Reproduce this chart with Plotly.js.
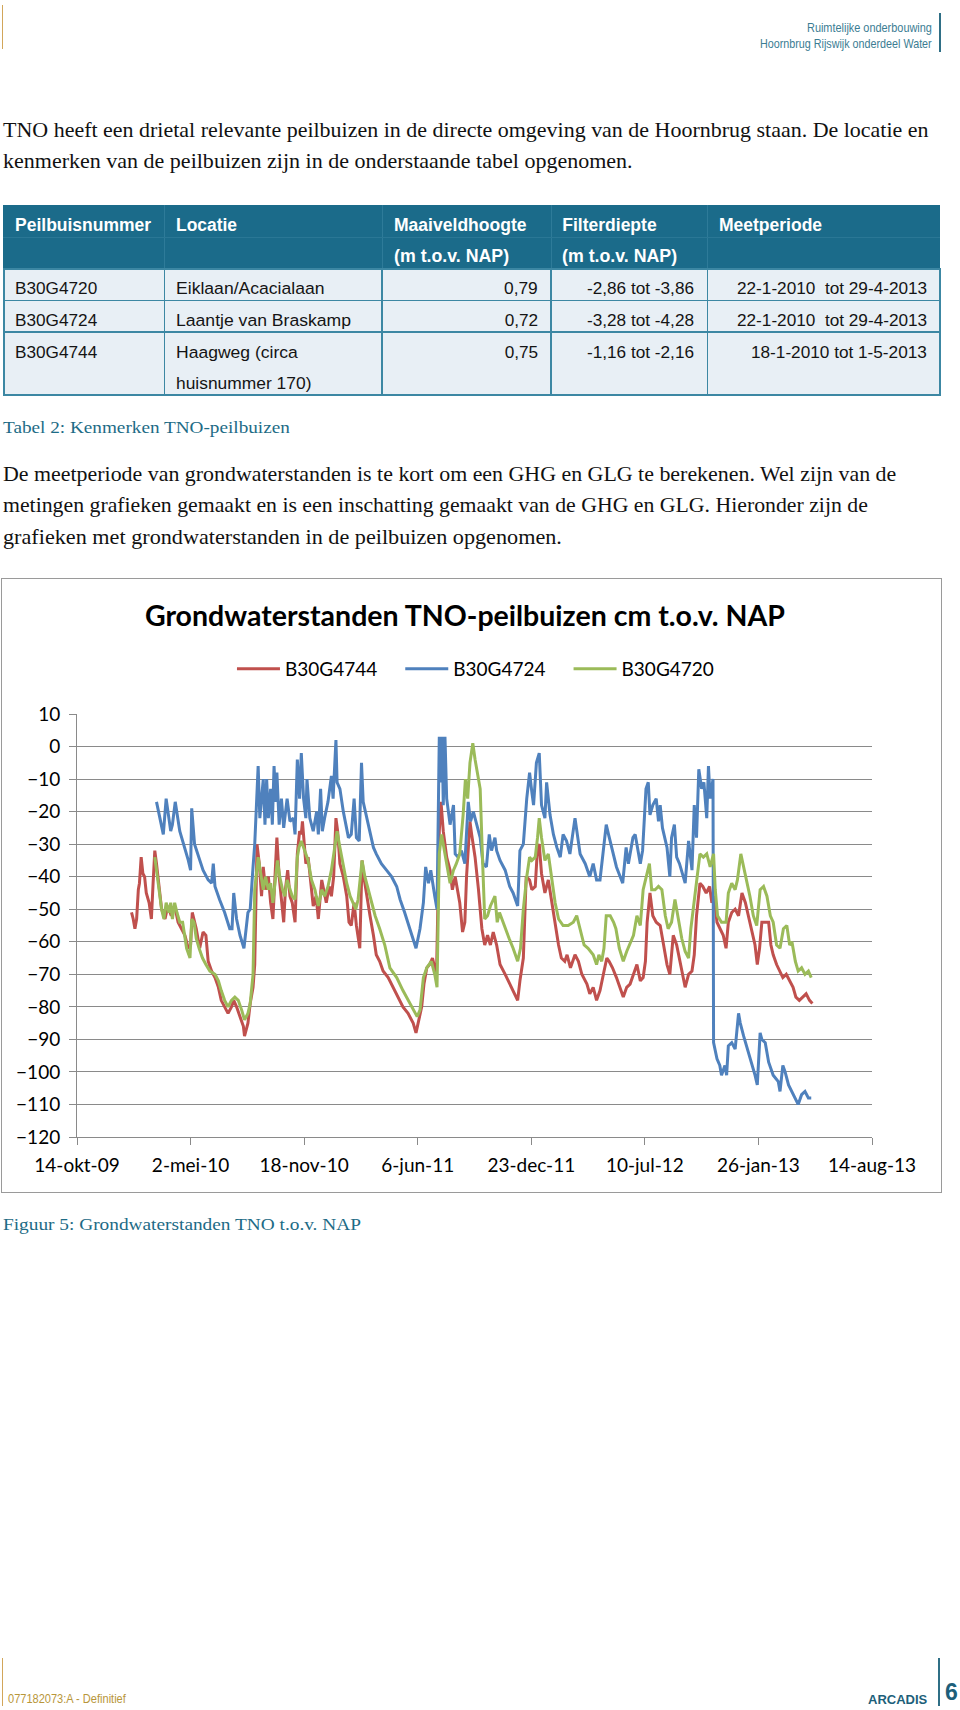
<!DOCTYPE html>
<html><head><meta charset="utf-8">
<script src="https://cdn.plot.ly/plotly-3.0.1.min.js"></script>
<style>
html,body{margin:0;padding:0;background:#fff}
body{width:960px;height:1710px;position:relative;overflow:hidden}
.t{position:absolute;white-space:nowrap;line-height:1;transform-origin:0 50%}
.serif{font-family:"Liberation Serif","DejaVu Serif",serif;font-size:21px;color:#111}
.cap{font-family:"Liberation Serif",serif;font-size:17px;color:#1d6b86}
.hdr{font-family:"Liberation Sans Narrow","Liberation Sans",Arial,sans-serif;font-size:13px;color:#3b7d93}
.th{font-family:"Liberation Sans",Arial,sans-serif;font-size:17.5px;font-weight:bold;color:#fff}
.td{font-family:"Liberation Sans",Arial,sans-serif;font-size:17.2px;color:#141414}
.box{position:absolute}
</style></head><body>

<!-- page header -->
<div class="box" style="left:2px;top:5px;width:1px;height:44px;background:#d2a65a"></div>
<div class="box" style="left:939px;top:13px;width:1.5px;height:39px;background:#2f6f86"></div>
<div class="t hdr" data-r="932" data-y="26.5" data-w="125">Ruimtelijke onderbouwing</div>
<div class="t hdr" data-r="932" data-y="42.5" data-w="172">Hoornbrug Rijswijk onderdeel Water</div>

<!-- paragraph 1 -->
<div class="t serif" data-x="3" data-y="130" data-w="926">TNO heeft een drietal relevante peilbuizen in de directe omgeving van de Hoornbrug staan. De locatie en</div>
<div class="t serif" data-x="3" data-y="161" data-w="630">kenmerken van de peilbuizen zijn in de onderstaande tabel opgenomen.</div>

<!-- table -->
<div class="box" style="left:3px;top:205px;width:937px;height:64px;background:#1b6b8a"></div>
<div class="box" style="left:164px;top:205px;width:1px;height:64px;background:#2e7b99"></div>
<div class="box" style="left:381.5px;top:205px;width:1px;height:64px;background:#2e7b99"></div>
<div class="box" style="left:550.5px;top:205px;width:1px;height:64px;background:#2e7b99"></div>
<div class="box" style="left:707px;top:205px;width:1px;height:64px;background:#2e7b99"></div>
<div class="box" style="left:3px;top:236.5px;width:937px;height:1px;background:#2a7795"></div>
<div class="box" style="left:3px;top:268.5px;width:937px;height:126.5px;background:#e8eff5"></div>
<div class="box" style="left:3px;top:268px;width:937px;height:1.5px;background:#3c87a3"></div>
<div class="box" style="left:3px;top:299.5px;width:937px;height:1.5px;background:#3c87a3"></div>
<div class="box" style="left:3px;top:331px;width:937px;height:1.5px;background:#3c87a3"></div>
<div class="box" style="left:3px;top:394px;width:937px;height:1.5px;background:#3c87a3"></div>
<div class="box" style="left:3px;top:268px;width:1.5px;height:127.5px;background:#3c87a3"></div>
<div class="box" style="left:163.5px;top:268px;width:1.5px;height:127.5px;background:#3c87a3"></div>
<div class="box" style="left:381px;top:268px;width:1.5px;height:127.5px;background:#3c87a3"></div>
<div class="box" style="left:550px;top:268px;width:1.5px;height:127.5px;background:#3c87a3"></div>
<div class="box" style="left:706.5px;top:268px;width:1.5px;height:127.5px;background:#3c87a3"></div>
<div class="box" style="left:939px;top:268px;width:1.5px;height:127.5px;background:#3c87a3"></div>

<div class="t th" data-x="15" data-y="226">Peilbuisnummer</div>
<div class="t th" data-x="176" data-y="226" data-w="60.7">Locatie</div>
<div class="t th" data-x="394.3" data-y="226" data-w="132.3">Maaiveldhoogte</div>
<div class="t th" data-x="562.3" data-y="226">Filterdiepte</div>
<div class="t th" data-x="719" data-y="226">Meetperiode</div>
<div class="t th" data-x="394.3" data-y="257.3" data-w="114.7">(m t.o.v. NAP)</div>
<div class="t th" data-x="562.3" data-y="257.3" data-w="114.7">(m t.o.v. NAP)</div>

<div class="t td" data-x="15" data-y="289.3">B30G4720</div>
<div class="t td" data-x="176" data-y="289.3" data-w="148.3">Eiklaan/Acacialaan</div>
<div class="t td" data-r="537.7" data-y="289.3" data-w="33.3">0,79</div>
<div class="t td" data-r="694" data-y="289.3">-2,86 tot -3,86</div>
<div class="t td" data-r="927" data-y="289.3">22-1-2010&nbsp; tot 29-4-2013</div>

<div class="t td" data-x="15" data-y="321">B30G4724</div>
<div class="t td" data-x="176" data-y="321" data-w="175">Laantje van Braskamp</div>
<div class="t td" data-r="537.7" data-y="321">0,72</div>
<div class="t td" data-r="694" data-y="321">-3,28 tot -4,28</div>
<div class="t td" data-r="927" data-y="321">22-1-2010&nbsp; tot 29-4-2013</div>

<div class="t td" data-x="15" data-y="353.3">B30G4744</div>
<div class="t td" data-x="176" data-y="353.3" data-w="121.3">Haagweg (circa</div>
<div class="t td" data-x="176" data-y="384.3" data-w="135.7">huisnummer 170)</div>
<div class="t td" data-r="537.7" data-y="353.3">0,75</div>
<div class="t td" data-r="694" data-y="353.3">-1,16 tot -2,16</div>
<div class="t td" data-r="927" data-y="353.3">18-1-2010 tot 1-5-2013</div>

<div class="t cap" data-x="3" data-y="426.7" data-w="287">Tabel 2: Kenmerken TNO-peilbuizen</div>

<!-- paragraph 2 -->
<div class="t serif" data-x="3" data-y="474" data-w="893">De meetperiode van grondwaterstanden is te kort om een GHG en GLG te berekenen. Wel zijn van de</div>
<div class="t serif" data-x="3" data-y="505" data-w="865">metingen grafieken gemaakt en is een inschatting gemaakt van de GHG en GLG. Hieronder zijn de</div>
<div class="t serif" data-x="3" data-y="536.7" data-w="559">grafieken met grondwaterstanden in de peilbuizen opgenomen.</div>

<!-- chart -->
<div class="box" style="left:1px;top:578px;width:939px;height:613px;border:1px solid #9a9a9a">
  <div id="chart" style="width:939px;height:613px"></div>
</div>

<div class="t cap" data-x="3" data-y="1223.5" data-w="358">Figuur 5: Grondwaterstanden TNO t.o.v. NAP</div>

<!-- footer -->
<div class="box" style="left:2px;top:1658px;width:1px;height:48px;background:#d2a65a"></div>
<div class="box" style="left:938px;top:1658px;width:1.5px;height:48px;background:#2f6f86"></div>
<div class="t hdr" style="color:#b8963a" data-x="8" data-y="1698" data-w="118">077182073:A - Definitief</div>
<div class="t" style="font-family:'Liberation Sans',Arial,sans-serif;font-weight:bold;font-size:13px;color:#1d5f7a" data-r="927" data-y="1699" data-w="59">ARCADIS</div>
<div class="t" style="font-family:'Liberation Sans',Arial,sans-serif;font-weight:bold;font-size:23px;color:#1d5f7a" data-x="945" data-y="1692">6</div>

<script>
// ---- data: days since 14-okt-09, groundwater level in cm t.o.v. NAP ----
const seriesNames = ['B30G4744', 'B30G4724', 'B30G4720'];
const seriesColors = ['#c0504d', '#4f81bd', '#9bbb59'];
const xTickDays = [0, 200, 400, 600, 800, 1000, 1200, 1400];
const xTickLabels = ['14-okt-09', '2-mei-10', '18-nov-10', '6-jun-11', '23-dec-11', '10-jul-12', '26-jan-13', '14-aug-13'];
const yTickValues = [10, 0, -10, -20, -30, -40, -50, -60, -70, -80, -90, -100, -110, -120];

const b30g4744 = [[96,-51],[99,-53],[102,-56],[105,-53],[108,-44],[110,-42],[113,-34],[116,-39],[119,-40],[122,-45],[127,-48],[131,-53],[134,-42],[137,-32],[140,-36],[145,-44],[149,-50],[155,-53],[160,-49],[166,-52],[172,-49],[178,-54],[184,-56],[190,-58],[196,-62],[200,-61],[203,-51],[210,-56],[216,-62],[222,-57],[227,-58],[231,-66],[237,-69],[243,-71],[249,-74],[254,-78],[260,-80],[266,-82],[272,-80],[276,-78],[281,-80],[287,-83],[293,-86],[295,-89],[301,-85],[305,-79],[310,-74],[313,-67],[315,-44],[317,-30],[321,-36],[325,-46],[328,-37],[332,-44],[337,-40],[341,-48],[345,-53],[349,-40],[352,-28],[356,-40],[360,-48],[364,-54],[367,-44],[371,-38],[375,-46],[379,-48],[384,-54],[388,-33],[392,-26],[395,-27],[397,-23],[399,-28],[403,-36],[407,-34],[411,-40],[416,-49],[421,-46],[425,-53],[431,-41],[435,-44],[439,-48],[444,-43],[448,-46],[452,-40],[456,-22],[459,-26],[463,-36],[469,-40],[475,-46],[479,-54],[483,-55],[488,-48],[492,-55],[498,-62],[502,-35],[506,-41],[510,-46],[516,-52],[522,-58],[527,-64],[533,-66],[539,-69],[548,-71],[557,-74],[566,-77],[574,-80],[583,-82],[592,-85],[597,-88],[603,-83],[607,-80],[611,-73],[616,-68],[621,-67],[626,-65],[630,-68],[633,-71],[638,-26],[641,-17],[645,-26],[651,-34],[657,-38],[661,-44],[666,-40],[670,-44],[674,-48],[679,-57],[683,-54],[686,-40],[692,-23],[695,-27],[701,-34],[707,-44],[710,-49],[713,-56],[718,-61],[723,-58],[728,-61],[733,-57],[739,-61],[745,-67],[754,-70],[762,-73],[771,-76],[776,-78],[780,-72],[786,-65],[791,-40],[797,-41],[801,-44],[807,-43],[811,-31],[814,-30],[818,-39],[824,-45],[830,-41],[836,-48],[842,-54],[848,-61],[853,-65],[859,-66],[863,-64],[869,-68],[877,-64],[883,-66],[889,-70],[898,-73],[903,-76],[909,-74],[915,-78],[921,-75],[927,-70],[933,-65],[937,-66],[943,-68],[950,-71],[956,-74],[962,-77],[968,-74],[974,-73],[980,-70],[986,-67],[992,-72],[997,-71],[1001,-66],[1004,-54],[1009,-45],[1014,-52],[1020,-54],[1027,-55],[1033,-61],[1039,-67],[1044,-70],[1050,-58],[1056,-61],[1062,-66],[1068,-71],[1071,-74],[1077,-70],[1083,-69],[1087,-64],[1091,-52],[1097,-42],[1102,-43],[1108,-45],[1114,-43],[1118,-48],[1122,-46],[1127,-54],[1132,-56],[1138,-58],[1143,-62],[1147,-54],[1153,-51],[1159,-50],[1165,-52],[1171,-45],[1177,-48],[1182,-52],[1188,-56],[1194,-61],[1198,-67],[1202,-62],[1206,-54],[1212,-54],[1218,-54],[1222,-61],[1226,-64],[1232,-67],[1238,-69],[1243,-71],[1249,-70],[1255,-72],[1261,-74],[1266,-77],[1272,-78],[1278,-77],[1284,-76],[1290,-78],[1295,-79]];

const b30g4724 = [[140,-17],[152,-27],[157,-16],[165,-26],[168,-24],[173,-17],[181,-26],[190,-31],[196,-35],[200,-38],[202,-19],[207,-30],[216,-35],[222,-38],[231,-41],[237,-42],[240,-36],[243,-43],[251,-47],[260,-51],[269,-56],[273,-56],[276,-45],[281,-53],[287,-58],[294,-62],[301,-51],[305,-50],[310,-37],[313,-30],[319,-6],[322,-22],[328,-10],[331,-24],[334,-10],[337,-22],[341,-13],[344,-24],[347,-6],[350,-17],[352,-8],[356,-24],[360,-16],[364,-25],[370,-16],[375,-23],[381,-22],[384,-27],[388,-4],[392,-16],[395,-2],[399,-16],[403,-22],[405,-10],[410,-22],[416,-26],[422,-20],[425,-27],[429,-13],[432,-26],[436,-22],[442,-17],[448,-9],[451,-16],[456,2],[458,-11],[463,-13],[469,-20],[478,-28],[483,-27],[488,-16],[492,-28],[497,-29],[501,-5],[504,-17],[510,-22],[516,-26],[522,-31],[527,-33],[536,-36],[545,-38],[554,-40],[563,-43],[569,-47],[577,-51],[586,-56],[597,-62],[604,-56],[610,-48],[614,-37],[619,-42],[623,-38],[627,-43],[630,-46],[634,-50],[638,3],[641,-11],[643,3],[645,-18],[648,3],[651,-16],[657,-24],[663,-18],[666,-33],[671,-34],[677,-32],[683,-36],[689,-17],[693,-23],[698,-20],[710,-28],[715,-36],[721,-37],[726,-27],[730,-32],[736,-28],[739,-32],[745,-35],[754,-38],[762,-43],[768,-45],[776,-49],[780,-32],[786,-30],[792,-16],[797,-8],[801,-14],[804,-18],[809,-5],[814,-2],[818,-18],[824,-22],[827,-11],[833,-21],[839,-27],[845,-31],[851,-34],[856,-27],[862,-29],[868,-33],[877,-22],[886,-33],[895,-36],[903,-40],[909,-36],[915,-41],[921,-41],[927,-31],[932,-24],[936,-27],[942,-31],[950,-37],[961,-42],[967,-31],[971,-36],[979,-28],[983,-27],[992,-36],[996,-32],[1002,-13],[1006,-11],[1009,-21],[1014,-18],[1020,-16],[1024,-23],[1027,-18],[1031,-25],[1039,-31],[1044,-40],[1047,-28],[1052,-24],[1056,-34],[1061,-36],[1068,-40],[1071,-42],[1077,-29],[1083,-38],[1087,-18],[1091,-28],[1095,-7],[1100,-13],[1104,-11],[1109,-22],[1112,-6],[1115,-16],[1120,-10],[1121,-91],[1127,-96],[1132,-98],[1135,-101],[1141,-98],[1144,-101],[1147,-92],[1153,-91],[1159,-93],[1165,-82],[1168,-85],[1174,-89],[1179,-92],[1188,-97],[1194,-101],[1198,-104],[1203,-88],[1206,-90],[1212,-91],[1218,-97],[1226,-101],[1235,-103],[1238,-106],[1243,-98],[1247,-100],[1253,-104],[1262,-107],[1270,-110],[1276,-107],[1282,-106],[1288,-108],[1293,-108]];

const b30g4720 = [[137,-34],[140,-38],[145,-46],[149,-50],[153,-53],[157,-48],[162,-51],[165,-48],[168,-53],[172,-48],[176,-51],[181,-54],[186,-54],[190,-58],[193,-62],[199,-65],[202,-53],[206,-54],[210,-59],[215,-62],[221,-65],[227,-67],[234,-69],[243,-70],[249,-72],[254,-75],[260,-78],[266,-80],[272,-78],[278,-77],[284,-78],[290,-81],[295,-84],[301,-82],[305,-79],[310,-70],[313,-44],[319,-34],[323,-39],[328,-44],[332,-40],[337,-44],[341,-42],[345,-48],[353,-35],[357,-40],[362,-44],[366,-46],[370,-41],[375,-44],[379,-46],[384,-47],[388,-34],[391,-31],[395,-29],[399,-31],[403,-33],[407,-35],[413,-41],[419,-44],[425,-49],[431,-44],[436,-46],[442,-43],[448,-38],[454,-31],[458,-26],[463,-31],[469,-37],[475,-42],[481,-46],[486,-48],[491,-50],[495,-47],[502,-35],[507,-40],[513,-44],[519,-48],[525,-52],[533,-56],[542,-61],[551,-68],[563,-71],[574,-75],[586,-79],[595,-82],[599,-83],[604,-81],[610,-71],[616,-68],[624,-66],[630,-70],[634,-74],[638,-33],[642,-27],[646,-31],[651,-36],[657,-42],[663,-38],[668,-36],[674,-33],[680,-21],[684,-10],[688,-16],[692,-5],[697,1],[701,-4],[705,-8],[710,-13],[714,-34],[718,-53],[723,-52],[728,-49],[736,-46],[740,-54],[744,-51],[748,-53],[754,-56],[761,-59],[768,-62],[776,-66],[781,-62],[786,-50],[792,-40],[797,-34],[801,-35],[807,-34],[811,-28],[814,-22],[818,-28],[824,-35],[830,-33],[836,-41],[842,-48],[848,-53],[856,-55],[865,-55],[874,-54],[880,-52],[886,-56],[893,-61],[900,-62],[909,-64],[915,-67],[919,-64],[924,-66],[928,-62],[932,-52],[939,-52],[945,-54],[949,-56],[955,-62],[962,-66],[968,-63],[973,-61],[980,-58],[986,-52],[992,-55],[997,-44],[1003,-40],[1008,-36],[1012,-44],[1018,-44],[1024,-43],[1030,-44],[1036,-52],[1041,-56],[1047,-54],[1053,-47],[1059,-53],[1065,-59],[1071,-63],[1077,-65],[1081,-56],[1086,-49],[1091,-43],[1097,-33],[1103,-34],[1109,-33],[1115,-37],[1121,-33],[1124,-44],[1128,-52],[1135,-54],[1143,-54],[1147,-45],[1153,-42],[1159,-44],[1163,-41],[1169,-33],[1174,-37],[1179,-42],[1185,-46],[1191,-52],[1197,-55],[1203,-44],[1209,-43],[1215,-46],[1221,-52],[1226,-54],[1232,-61],[1238,-62],[1244,-56],[1250,-55],[1255,-61],[1259,-60],[1265,-66],[1270,-69],[1276,-68],[1282,-70],[1288,-69],[1293,-71]];

const seriesData = [b30g4744, b30g4724, b30g4720];

function placeText() {
  document.querySelectorAll('[data-y]').forEach(el => {
    const ow = el.offsetWidth;
    let s = 1;
    if (el.dataset.w) s = +el.dataset.w / ow;
    const left = el.dataset.r ? (+el.dataset.r - ow * s) : +el.dataset.x;
    el.style.left = left + 'px';
    el.style.top = el.dataset.y + 'px';
    el.style.transform = 'translateY(-50%) scaleX(' + s + ')';
  });
}

function drawChart() {
  const font = 'Lato, "Open Sans", sans-serif';
  const traces = seriesData.map((d, i) => ({
    type: 'scatter', mode: 'lines', name: seriesNames[i],
    x: d.map(p => p[0]), y: d.map(p => p[1]),
    line: {color: seriesColors[i], width: 3},
    hoverinfo: 'skip'
  }));
  const layout = {
    width: 939, height: 613,
    margin: {l: 75, r: 69, t: 135, b: 55},
    paper_bgcolor: '#fff', plot_bgcolor: '#fff',
    font: {family: font, color: '#000', size: 19},
    title: {text: '<b>Grondwaterstanden TNO-peilbuizen cm t.o.v. NAP</b>',
      font: {family: font, size: 28.5, color: '#000'},
      xref: 'container', x: 0.493, xanchor: 'center',
      yref: 'container', y: 0.9396, yanchor: 'middle'},
    showlegend: true,
    legend: {orientation: 'h', xref: 'container', x: 0.2449, xanchor: 'left',
      yref: 'container', y: 0.8532, yanchor: 'middle',
      itemwidth: 43,
      entrywidthmode: 'pixels', entrywidth: 110.3,
      font: {family: font, size: 19, color: '#000'}, traceorder: 'normal'},
    xaxis: {range: [0, 1400], tickmode: 'array', tickvals: xTickDays, ticktext: xTickLabels,
      showgrid: false, zeroline: false, showline: true, linecolor: '#8a8a8a', linewidth: 1,
      ticks: 'outside', ticklen: 7, tickcolor: '#8a8a8a', tickwidth: 1,
      tickfont: {family: font, size: 19, color: '#000'}, ticklabelstandoff: 4, fixedrange: true},
    yaxis: {range: [-120, 10], tickmode: 'array', tickvals: yTickValues,
      showgrid: true, gridcolor: '#8a8a8a', gridwidth: 1, zeroline: false,
      showline: true, linecolor: '#8a8a8a', linewidth: 1,
      ticks: 'outside', ticklen: 7, tickcolor: '#8a8a8a', tickwidth: 1,
      tickfont: {family: font, size: 19, color: '#000'}, ticklabelstandoff: 5, fixedrange: true}
  };
  Plotly.newPlot('chart', traces, layout, {staticPlot: true, displayModeBar: false});
}

(document.fonts ? document.fonts.ready : Promise.resolve()).then(() => {
  placeText();
  drawChart();
});
</script>
</body></html>
